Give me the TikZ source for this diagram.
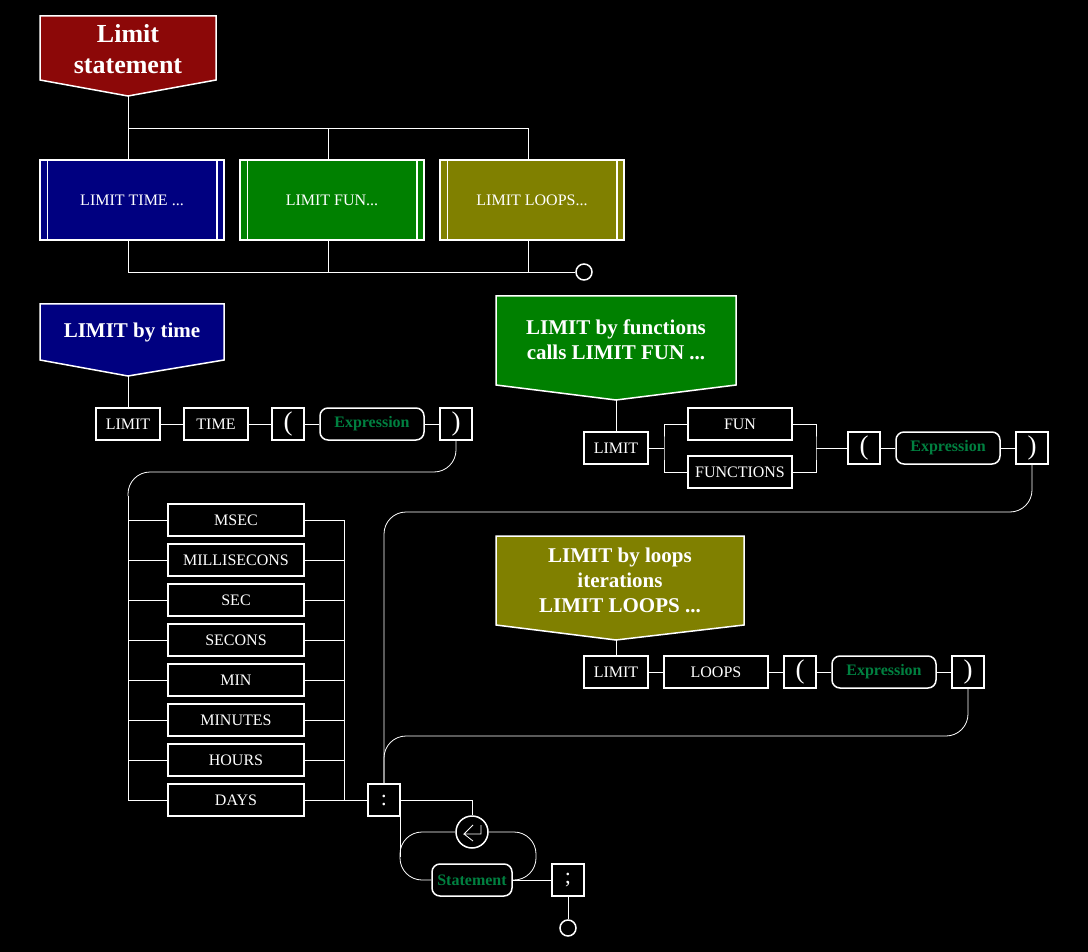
\documentclass[tikz,border=0pt]{standalone}
\usepackage{fontspec}
\setmainfont{Liberation Serif}
\definecolor{hdrred}{RGB}{140,8,8}
\definecolor{timeblue}{RGB}{0,0,128}
\definecolor{fungreen}{RGB}{0,128,0}
\definecolor{loopolive}{RGB}{128,128,0}
\definecolor{exprgreen}{RGB}{0,128,64}

\begin{document}
\begin{tikzpicture}[x=1pt, y=-1pt, white, line width=0.8pt,
  kw/.style={draw, line width=1.5pt, fill=black, inner sep=0pt, minimum height=32pt,
    font=\fontsize{16}{19}\selectfont},
  paren/.style={kw, minimum width=32pt, font=\fontsize{27}{27}\selectfont},
  expr/.style={kw, rounded corners=8pt, minimum width=104pt, text=exprgreen,
    font=\bfseries\fontsize{16}{19}\selectfont},
  sub/.style={draw, line width=1.5pt, inner sep=0pt, minimum width=184pt,
    minimum height=80pt, font=\fontsize{16}{19}\selectfont},
  banner/.style={draw, line width=1.5pt},
  hdr/.style={align=center, font=\bfseries\fontsize{21}{25}\selectfont},
  dot/.style={draw, circle, line width=1.5pt, fill=black, inner sep=0pt, minimum size=16pt}]

  \fill[black] (0,0) rectangle (1088,952);

  % main header and the three kinds
  \filldraw[banner, fill=hdrred] (40,16) -- (216,16) -- (216,80) -- (128,96) -- (40,80) -- cycle;
  \node[align=center, font=\bfseries\fontsize{26}{31}\selectfont] (stmthdr) at (128,49) {Limit\\statement};
  \coordinate (stmttip) at (128,96);
  \coordinate (busl) at (128,128);

  \node[sub, fill=timeblue] (subtime) at (132,200) {LIMIT TIME ...};
  \node[sub, fill=fungreen] (subfun) at (332,200) {LIMIT FUN...};
  \node[sub, fill=loopolive] (subloops) at (532,200) {LIMIT LOOPS...};
  \foreach \b in {subtime,subfun,subloops} {
    \draw[line width=1.5pt] ([xshift=8]\b.north west) -- ([xshift=8]\b.south west);
    \draw[line width=1.5pt] ([xshift=-8]\b.north east) -- ([xshift=-8]\b.south east);
  }
  \node[dot] (stmtend) at (584,272) {};

  \draw (stmttip) -- (busl) -| ([xshift=-4]subloops.north);
  \draw ([xshift=-4]subfun.north) -- ([xshift=-4]subfun.north |- busl);
  \draw ([xshift=-4]subtime.north) -- (busl);
  \draw ([xshift=-4]subtime.south) |- (stmtend.west);
  \draw ([xshift=-4]subfun.south) -- ++(0,32);
  \draw ([xshift=-4]subloops.south) -- ++(0,32);

  % LIMIT by time
  \filldraw[banner, fill=timeblue] (40,304) -- (224,304) -- (224,360) -- (128,376) -- (40,360) -- cycle;
  \node[hdr] (timehdr) at (132,332) {LIMIT by time};
  \coordinate (timetip) at (128,376);

  \node[kw, minimum width=64pt] (tlimit) at (128,424) {LIMIT};
  \node[kw, minimum width=64pt] (ttime) at (216,424) {TIME};
  \node[paren] (tlpar) at (288,424) {(};
  \node[expr] (texpr) at (372,424) {Expression};
  \node[paren] (trpar) at (456,424) {)};
  \draw (timetip) -- (tlimit);
  \draw (tlimit) -- (ttime) -- (tlpar) -- (texpr) -- (trpar);

  \coordinate (tbus) at (128,472);
  \coordinate (tbend) at (128,496);
  \coordinate (rbus) at (344,520);
  \draw[rounded corners=22pt] (trpar.south) |- (tbus) -- (tbend);
  \foreach \u [count=\i] in {MSEC,MILLISECONS,SEC,SECONS,MIN,MINUTES,HOURS,DAYS} {
    \node[kw, minimum width=136pt] (unit\i) at (236,480+40*\i) {\u};
    \draw (unit\i.west) -- (unit\i.west -| tbus);
    \draw (unit\i.east) -- (unit\i.east -| rbus);
  }
  \draw (tbend) |- (unit8.west);
  \draw (unit1.east -| rbus) -- (unit8.east -| rbus);

  % LIMIT by functions
  \filldraw[banner, fill=fungreen] (496,296) -- (736,296) -- (736,385) -- (616,400) -- (496,385) -- cycle;
  \node[hdr] (funhdr) at (616,340) {LIMIT by functions\\calls LIMIT FUN ...};
  \coordinate (funtip) at (616,400);

  \node[kw, minimum width=64pt] (flimit) at (616,448) {LIMIT};
  \node[kw, minimum width=104pt] (ffun) at (740,424) {FUN};
  \node[kw, minimum width=104pt] (ffuns) at (740,472) {FUNCTIONS};
  \node[paren] (flpar) at (864,448) {(};
  \node[expr] (fexpr) at (948,448) {Expression};
  \node[paren] (frpar) at (1032,448) {)};
  \coordinate (fsplit) at (664,448);
  \coordinate (fjoin) at (816,448);
  \draw (funtip) -- (flimit);
  \draw (flimit.east) -- (fsplit);
  \draw (ffun.west) -| (fsplit) |- (ffuns.west);
  \draw (ffun.east) -| (fjoin) |- (ffuns.east);
  \draw (fjoin) -- (flpar.west);
  \draw (flpar) -- (fexpr) -- (frpar);

  % LIMIT by loops
  \filldraw[banner, fill=loopolive] (496,536) -- (744,536) -- (744,625) -- (616,640) -- (496,625) -- cycle;
  \node[hdr] (loophdr) at (620,580) {LIMIT by loops\\iterations\\LIMIT LOOPS ...};
  \coordinate (looptip) at (616,640);

  \node[kw, minimum width=64pt] (llimit) at (616,672) {LIMIT};
  \node[kw, minimum width=104pt] (lloops) at (716,672) {LOOPS};
  \node[paren] (llpar) at (800,672) {(};
  \node[expr] (lexpr) at (884,672) {Expression};
  \node[paren] (lrpar) at (968,672) {)};
  \draw (looptip) -- (llimit);
  \draw (llimit) -- (lloops) -- (llpar) -- (lexpr) -- (lrpar);

  % common tail
  \node[kw, minimum width=32pt, font=\fontsize{22}{22}\selectfont] (colon) at (384,800) {:};
  \node[draw, circle, line width=1.5pt, fill=black, minimum size=32pt, inner sep=0pt] (ret) at (472,832) {};
  \node[expr, minimum width=80pt] (stmt) at (472,880) {Statement};
  \node[kw, minimum width=32pt, font=\fontsize{22}{22}\selectfont] (semi) at (568,880) {;};
  \node[dot] (stop) at (568,928) {};

  \coordinate (fret) at (384,512);
  \coordinate (lret) at (384,736);
  \draw[rounded corners=22pt] (frpar.south) |- (fret) -- (colon.north);
  \draw[rounded corners=22pt] (lrpar.south) |- (lret) -- (colon.north);
  \draw (unit8.east) -- (colon.west);
  \draw (colon.east) -| (ret.north);
  \draw ([shift={(9,-7)}]ret.center) -- ++(0,9) -- ++(-17,0) -- ++(9,-9)
    ++(-9,9) -- ++(9,7);
  \draw (colon.south east) -- ++(0,40);
  \draw[rounded corners=22pt] (ret.west) -| (400,880) -- (stmt.west);
  \draw[rounded corners=22pt] (ret.east) -| (536,880) -- (stmt.east);
  \draw (stmt.east) -- (semi.west);
  \draw (semi.south) -- (stop.north);
\end{tikzpicture}
\end{document}
